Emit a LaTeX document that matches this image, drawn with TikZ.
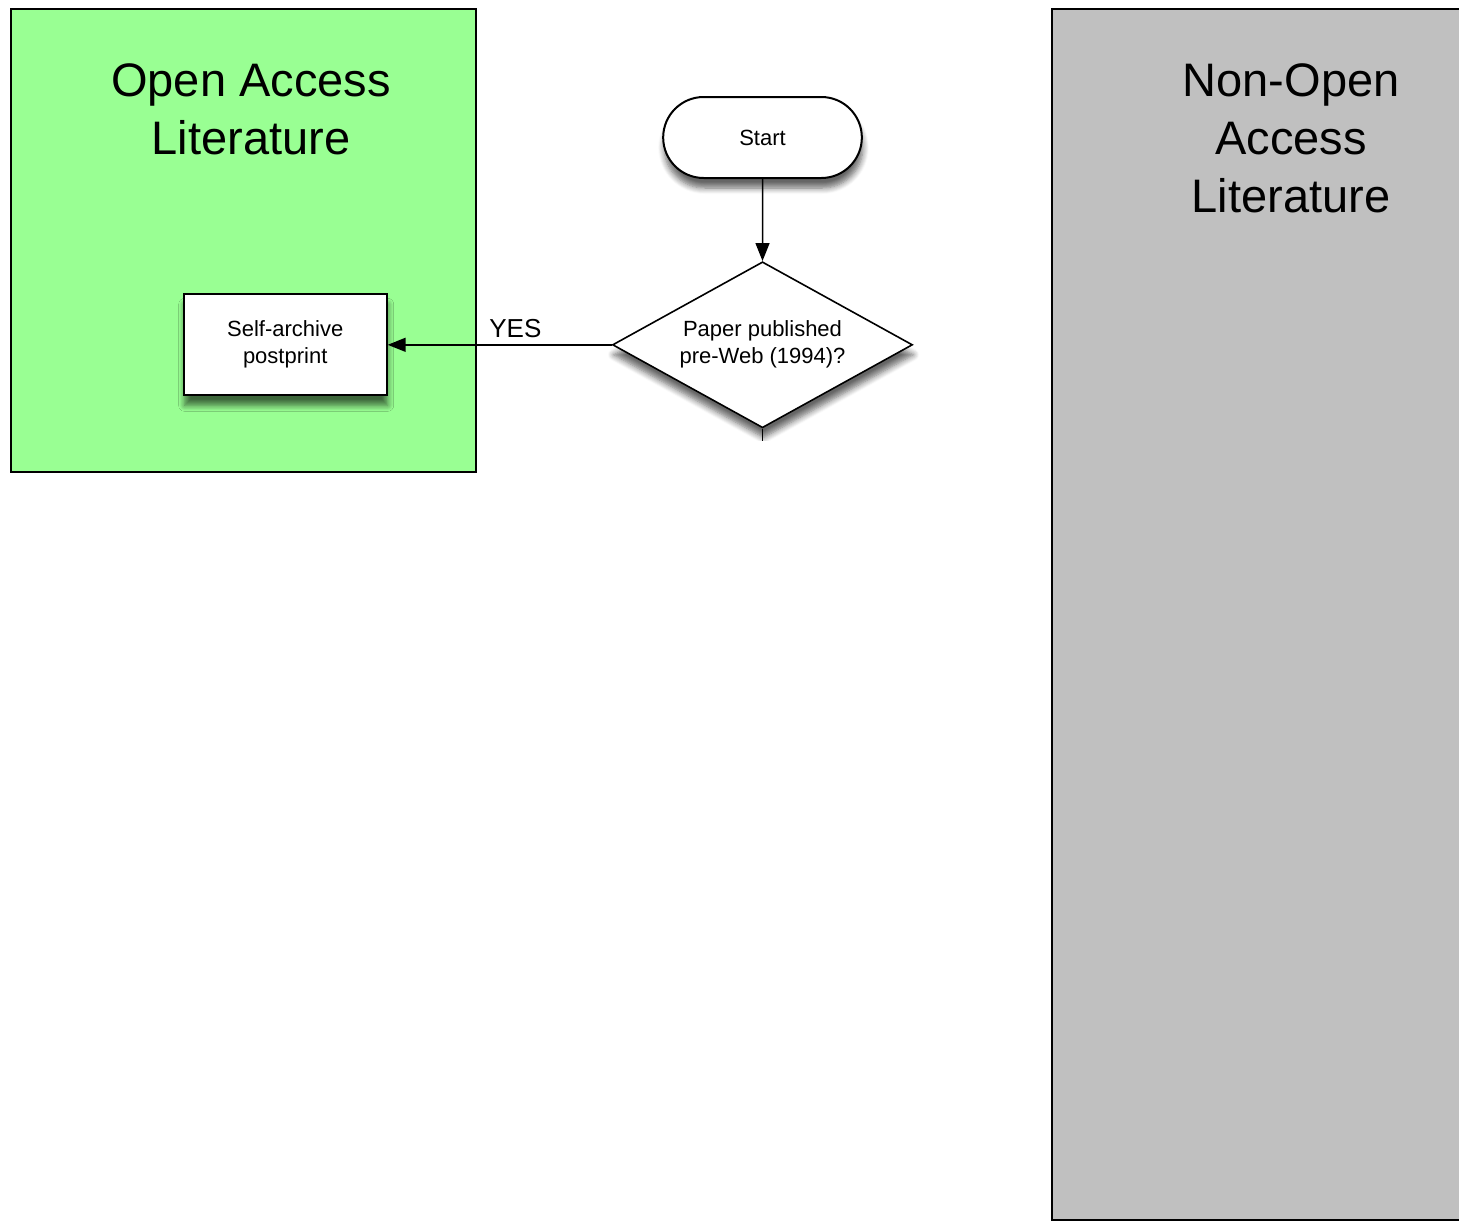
\documentclass[tikz,border=0pt]{standalone}
\usepackage{fontspec}
\setmainfont{Liberation Sans}
\usetikzlibrary{arrows.meta,positioning,shapes.geometric,shapes.misc,shadows.blur}
\definecolor{oagreen}{RGB}{153,255,147}
\definecolor{noagrey}{RGB}{192,192,192}
\tikzset{
    region/.style={draw,line width=1pt},
    heading/.style={align=center,font=\fontsize{23.5}{29}\selectfont},
    shade/.style={blur shadow={shadow xshift=0.5pt,shadow yshift=-5pt,shadow blur steps=7,shadow blur radius=3pt,shadow opacity=60}},
    terminal/.style={rounded rectangle,draw,fill=white,line width=1pt,minimum width=106pt,minimum height=40.5pt,font=\fontsize{11}{13.5}\selectfont,shade},
    decision/.style={diamond,draw,fill=white,line width=0.8pt,aspect=1.8,inner sep=0pt,minimum width=150pt,minimum height=83pt,align=center,font=\fontsize{11}{13.5}\selectfont,shade},
    process/.style={rectangle,draw,fill=white,line width=1pt,minimum width=101.5pt,minimum height=50.5pt,align=center,font=\fontsize{11}{13.5}\selectfont,shade},
    pre/.style={-{Triangle[length=9pt,width=7pt]},line width=0.75pt},
    bi/.style={-,line width=0.75pt}
}
\begin{document}
\begin{tikzpicture}[x=0.5pt,y=-0.5pt]

    \useasboundingbox (0,0) rectangle (1459,1221);

    % the two regions
    \draw[region,fill=oagreen] (11,9) rectangle (476,472);
    \draw[region,fill=noagrey] (1052,9) rectangle (1462,1220);
    \node[heading] (oa title)  at (251,109) {Open Access\\Literature};
    \node[heading] (noa title) at (1291,138) {Non-Open\\Access\\Literature};

    % flow chart
    \node[terminal] (start) at (762.5,137.5) {Start};
    \begin{scope}
        \clip (0,0) rectangle (1459,440);
        \node[decision] (paper) [below=41pt of start] {Paper published\\pre-Web (1994)?};
        \coordinate (paper down) at ([yshift=-20pt]paper.south);
        \draw[bi] (paper.south) -- (paper down);
    \end{scope}
    \node[process] (self archive) [left=112pt of paper] {Self-archive\\postprint};

    \draw[pre] (start) -- (paper);
    \draw[pre] (paper.west) -- node[above,pos=0.43,font=\fontsize{13}{15}\selectfont] (yes) {YES} (self archive);

\end{tikzpicture}
\end{document}
